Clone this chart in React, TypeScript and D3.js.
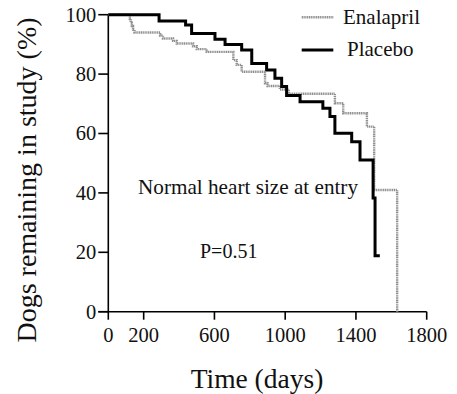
import React from "react";
import * as d3 from "d3";

// Kaplan-Meier step data: [day, % remaining] (value holds from that day until next)
const placeboDays = [0, 287, 437, 471, 603, 660, 754, 811, 895, 942, 980, 1008, 1084, 1213, 1253, 1281, 1376, 1423, 1497, 1508, 1535];
const placeboVals = [100, 97.9, 96.5, 93.7, 91.7, 90.0, 88.1, 83.6, 81.4, 78.6, 75.8, 72.8, 70.7, 68.5, 65.7, 60.1, 57.2, 51.1, 38.3, 18.8, 18.8];

const enalaprilDays = [0, 122, 127, 133, 140, 148, 293, 309, 366, 387, 479, 500, 556, 707, 726, 754, 886, 900, 970, 1020, 1281, 1328, 1462, 1503, 1633];
const enalaprilVals = [100, 98.5, 97.3, 96.2, 95.0, 94.0, 93.0, 92.0, 91.2, 90.3, 89.4, 88.4, 87.5, 84.7, 83.1, 80.8, 76.9, 76.0, 74.8, 73.4, 70.2, 66.8, 62.3, 41.0, 0];

const xTicks = [0, 200, 600, 1000, 1400, 1800];
const yTicks = [0, 20, 40, 60, 80, 100];

const seriesNames = ["Enalapril", "Placebo"];
const annotation = "Normal heart size at entry";
const pValue = "P=0.51";
const xTitle = "Time (days)";
const yTitle = "Dogs remaining in study (%)";

export default function App() {
  const W = 457, H = 394;
  const x = d3.scaleLinear().domain([0, 1800]).range([108.3, 426.7]);
  const y = d3.scaleLinear().domain([0, 100]).range([311.7, 14.7]);
  const font = "Liberation Serif, serif";

  const line = d3
    .line<[number, number]>()
    .x((d) => x(d[0]))
    .y((d) => y(d[1]))
    .curve(d3.curveStepAfter);

  const plac: [number, number][] = placeboDays.map((d, i) => [d, placeboVals[i]]);
  const enal: [number, number][] = enalaprilDays.map((d, i) => [d, enalaprilVals[i]]);

  const gray = "#8f8f8f";

  return (
    <svg
      width={W}
      height={H}
      style={{ position: "absolute", left: 0, top: 0, background: "#fff" }}
    >
      {/* axes */}
      <line x1={x(0)} x2={x(0)} y1={y(0)} y2={y(100)} stroke="#000" strokeWidth={1.6} />
      <line x1={x(0) - 10} x2={x(1800)} y1={y(0)} y2={y(0)} stroke="#000" strokeWidth={1.6} />
      {yTicks.map((t) => (
        <g key={"y" + t}>
          <line x1={x(0) - 10} x2={x(0)} y1={y(t)} y2={y(t)} stroke="#000" strokeWidth={1.6} />
          <text x={x(0) - 12} y={y(t)} dy="0.34em" textAnchor="end" fontSize={20.5} fill="#111" fontFamily={font}>
            {t}
          </text>
        </g>
      ))}
      {xTicks.map((t) => (
        <g key={"x" + t}>
          <line x1={x(t)} x2={x(t)} y1={y(0)} y2={y(0) + 8} stroke="#000" strokeWidth={1.6} />
          <text x={x(t)} y={342} textAnchor="middle" fontSize={20.5} fill="#111" fontFamily={font}>
            {t}
          </text>
        </g>
      ))}
      <text x={257} y={388} textAnchor="middle" fontSize={27.5} fill="#111" fontFamily={font}>
        {xTitle}
      </text>
      <text
        transform={`translate(36,180) rotate(-90)`}
        textAnchor="middle"
        fontSize={28}
        fill="#111"
        fontFamily={font}
      >
        {yTitle}
      </text>

      {/* curves */}
      <path d={line(enal) || ""} fill="none" stroke={gray} strokeWidth={2.4} strokeDasharray="1.2 0.6" />
      <path d={line(plac) || ""} fill="none" stroke="#000" strokeWidth={3} />

      {/* legend */}
      <line x1={301.7} x2={333.3} y1={17.3} y2={17.3} stroke={gray} strokeWidth={2.4} strokeDasharray="1.2 0.6" />
      <text x={343} y={24} fontSize={21} fill="#111" fontFamily={font}>
        {seriesNames[0]}
      </text>
      <line x1={301.7} x2={333.3} y1={50} y2={50} stroke="#000" strokeWidth={3} />
      <text x={347} y={55.5} fontSize={21} fill="#111" fontFamily={font}>
        {seriesNames[1]}
      </text>

      {/* annotations */}
      <text x={138} y={194} fontSize={21.2} fill="#111" fontFamily={font}>
        {annotation}
      </text>
      <text x={200} y={258} fontSize={20} fill="#111" fontFamily={font}>
        {pValue}
      </text>
    </svg>
  );
}
